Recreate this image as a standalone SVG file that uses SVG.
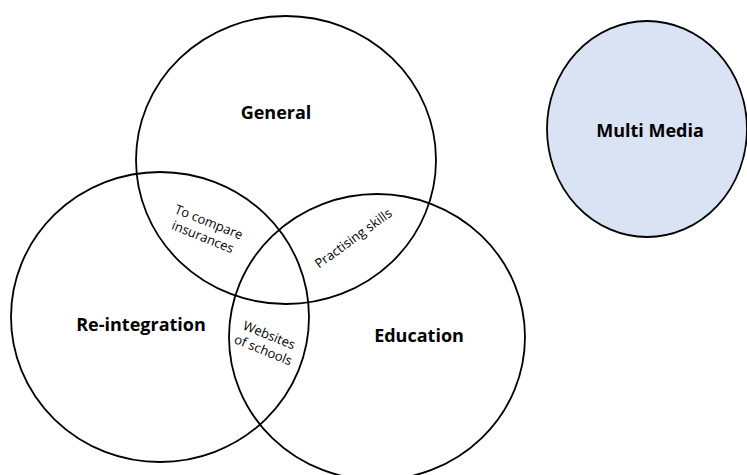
<svg xmlns="http://www.w3.org/2000/svg" width="747" height="475" viewBox="0 0 747 475">
<style>
.c{fill:none;stroke:#000;stroke-width:1.8}
.big{font-family:"Open Sans","Liberation Sans",sans-serif;font-weight:bold;font-size:18px;fill:#000;text-anchor:middle}
.sm{font-family:"Open Sans","Liberation Sans",sans-serif;font-size:13px;fill:#000;text-anchor:middle}
</style>
<rect width="747" height="475" fill="#fff"/>
<g id="general"><ellipse class="c" cx="286" cy="160" rx="150" ry="144"/><text class="big" x="276" y="119">General</text></g>
<g id="reintegration"><ellipse class="c" cx="160" cy="317" rx="149" ry="145"/><text class="big" x="141" y="331">Re-integration</text></g>
<g id="education"><ellipse class="c" cx="377" cy="337" rx="148" ry="143"/><text class="big" x="419" y="342">Education</text></g>
<g id="multimedia"><ellipse cx="647" cy="129" rx="100" ry="108" fill="#dae3f3" stroke="#000" stroke-width="1.8"/><text class="big" x="650" y="137">Multi Media</text></g>
<g id="labels">
<g transform="translate(206,229) rotate(22)"><text class="sm" x="0" y="-3">To compare</text><text class="sm" x="0" y="13">insurances</text></g>
<g transform="translate(356,242) rotate(-36)"><text class="sm" x="0" y="0">Practising skills</text></g>
<g transform="translate(266,343) rotate(22)"><text class="sm" x="0" y="-4">Websites</text><text class="sm" x="0" y="12">of schools</text></g>
</g>
</svg>
